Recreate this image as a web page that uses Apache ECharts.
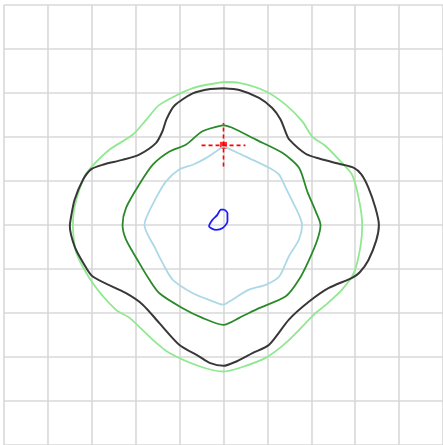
<!DOCTYPE html>
<html>
<head>
<meta charset="utf-8">
<script src="https://cdn.jsdelivr.net/npm/echarts@6/dist/echarts.min.js"></script>
<style>
  html, body { margin: 0; padding: 0; background: #fff; }
  #chart { width: 443px; height: 445px; }
</style>
</head>
<body>
<div id="chart"></div>
<script>
// contour outlines, [x, y] in grid units, clockwise from the top
var outerLight = [[0,3.25],[0.36,3.23],[0.96,3.04],[1.42,2.73],[1.80,2.35],[2.02,2.01],[2.33,1.79],[2.70,1.41],[2.93,1.14],[3.08,0.61],[3.16,0],[3.12,-0.49],[2.97,-1.09],[2.70,-1.47],[2.35,-1.80],[2.10,-2.0],[1.87,-2.23],[1.42,-2.68],[0.96,-3.02],[0.36,-3.25],[0,-3.33],[-0.55,-3.21],[-1.23,-2.91],[-1.61,-2.61],[-2.14,-2.11],[-2.45,-1.93],[-2.98,-1.32],[-3.35,-0.64],[-3.43,-0.03],[-3.39,0.42],[-3.20,1.03],[-3.06,1.26],[-2.60,1.71],[-2.07,2.05],[-1.76,2.39],[-1.46,2.73],[-0.70,3.11],[0,3.25]];

var darkRing = [[0,3.11],[0.36,3.07],[0.81,2.89],[1.11,2.66],[1.30,2.40],[1.42,2.10],[1.50,1.94],[1.87,1.62],[2.18,1.51],[2.63,1.39],[2.97,1.30],[3.14,1.15],[3.30,0.85],[3.46,0.39],[3.54,0],[3.48,-0.35],[3.30,-0.80],[3.10,-1.08],[2.93,-1.20],[2.40,-1.43],[1.95,-1.74],[1.49,-2.15],[1.04,-2.72],[0.66,-2.91],[0.25,-3.12],[0,-3.20],[-0.30,-3.14],[-0.55,-2.99],[-1.01,-2.72],[-1.46,-2.23],[-1.84,-1.81],[-2.22,-1.55],[-2.98,-1.17],[-3.20,-0.85],[-3.39,-0.49],[-3.50,-0.03],[-3.47,0.20],[-3.39,0.58],[-3.20,1.03],[-3.01,1.27],[-2.75,1.37],[-2.30,1.48],[-1.92,1.60],[-1.54,1.86],[-1.39,2.13],[-1.30,2.40],[-1.12,2.71],[-0.70,2.99],[-0.30,3.09],[0,3.11]];

var greenRing = [[0,2.27],[0.2,2.21],[0.74,1.94],[1.34,1.64],[1.72,1.30],[1.91,0.76],[2.10,0.31],[2.21,0],[2.14,-0.33],[1.95,-0.79],[1.72,-1.24],[1.42,-1.62],[0.81,-1.89],[0.36,-2.11],[0,-2.27],[-0.48,-2.11],[-0.93,-1.89],[-1.46,-1.55],[-1.69,-1.24],[-1.92,-0.86],[-2.22,-0.33],[-2.30,0],[-2.22,0.39],[-1.92,0.92],[-1.61,1.37],[-1.23,1.67],[-0.85,1.83],[-0.48,2.13],[0,2.27]];

var blueRing = [[0,1.79],[0.13,1.73],[0.58,1.52],[1.04,1.30],[1.27,1.14],[1.42,0.84],[1.57,0.54],[1.72,0.23],[1.79,0],[1.72,-0.33],[1.49,-0.71],[1.27,-1.17],[0.96,-1.36],[0.58,-1.47],[0.13,-1.74],[0,-1.81],[-0.33,-1.70],[-0.70,-1.55],[-1.16,-1.24],[-1.39,-0.86],[-1.54,-0.56],[-1.80,0],[-1.76,0.16],[-1.54,0.61],[-1.31,0.99],[-1.01,1.26],[-0.70,1.37],[-0.40,1.52],[0,1.79]];

var core = [[0.02,0.35],[0.09,0.27],[0.09,0.08],[-0.02,-0.07],[-0.17,-0.11],[-0.33,-0.03],[-0.25,0.12],[-0.14,0.23],[-0.06,0.35],[0.02,0.35]];

// red marker and its dashed cross
var marker = [[0, 1.81]];
var crossH = [[-0.5, 1.81], [0.5, 1.81]];
var crossV = [[0, 1.33], [0, 2.32]];

function ring(data, color, width) {
    return {
        type: 'line',
        data: data,
        showSymbol: false,
        smooth: 0.25,
        silent: true,
        lineStyle: { color: color, width: width }
    };
}

var axisBase = {
    type: 'value',
    min: -5,
    max: 5,
    interval: 1,
    axisLine: { show: false },
    axisTick: { show: false },
    axisLabel: { show: false },
    splitLine: { show: true, lineStyle: { color: '#d8d8d8', width: 1.6 } }
};

var chart = echarts.init(document.getElementById('chart'));
chart.setOption({
    animation: false,
    grid: { left: 4, top: 5, width: 440, height: 440 },
    xAxis: Object.assign({}, axisBase),
    yAxis: Object.assign({}, axisBase),
    series: [
        ring(outerLight, '#90e890', 1.8),
        ring(darkRing, '#383838', 2),
        ring(greenRing, '#2a8a2a', 1.8),
        ring(blueRing, '#add8e6', 1.8),
        ring(core, '#1a1aff', 1.8),
        {
            type: 'line', data: crossH, showSymbol: false, silent: true,
            lineStyle: { color: '#ff0000', width: 1.6, type: [4, 3] }
        },
        {
            type: 'line', data: crossV, showSymbol: false, silent: true,
            lineStyle: { color: '#ff0000', width: 1.6, type: [4, 3] }
        },
        {
            type: 'scatter', data: marker, symbol: 'rect', symbolSize: 7,
            silent: true, itemStyle: { color: '#ff0000' }
        }
    ]
});
</script>
</body>
</html>
